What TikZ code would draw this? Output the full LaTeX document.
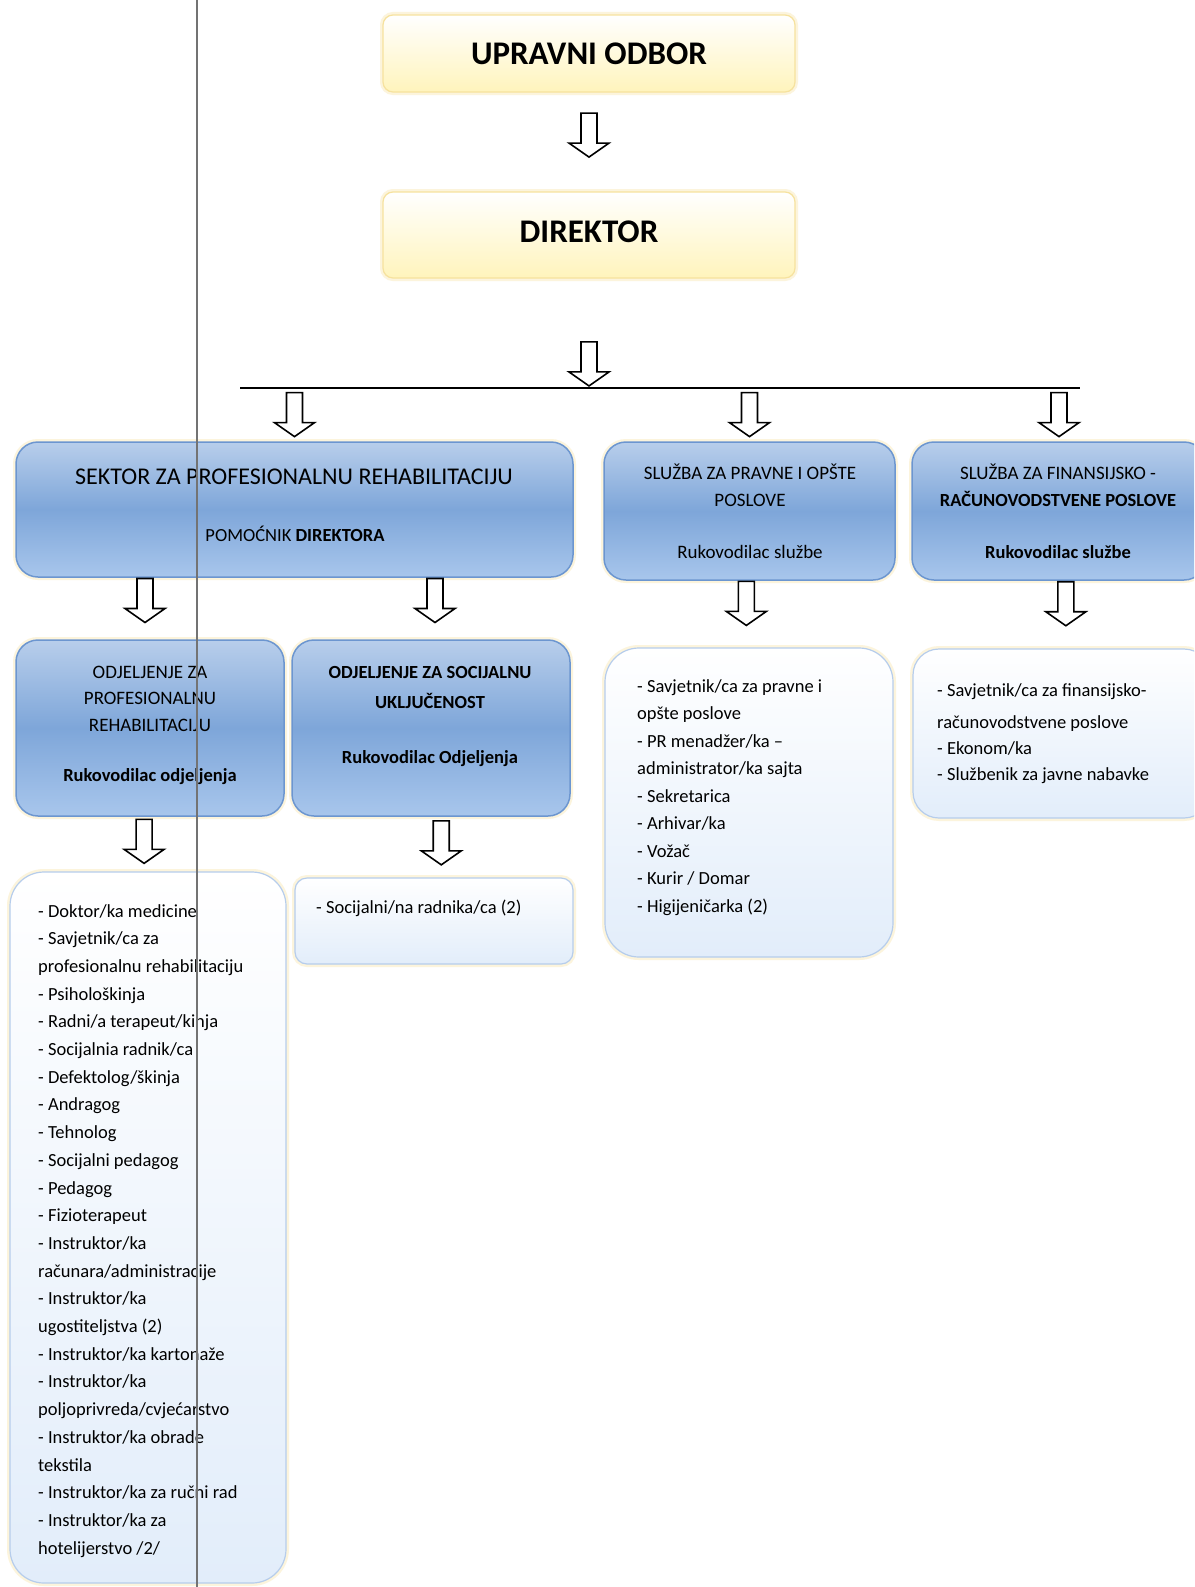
\documentclass[tikz,border=0pt]{standalone}
\usepackage{fontspec}
\setmainfont{Carlito}
\usepackage{tikz}
\usetikzlibrary{calc}

\definecolor{blueA}{RGB}{184,206,235}
\definecolor{blueB}{RGB}{126,166,217}
\definecolor{blueC}{RGB}{168,198,236}
\definecolor{blueline}{RGB}{108,150,208}
\definecolor{ylwfill}{RGB}{255,244,188}
\definecolor{ylwline}{RGB}{246,226,158}
\definecolor{listfill}{RGB}{226,237,250}
\definecolor{listline}{RGB}{182,205,236}
\definecolor{glowc}{RGB}{252,244,220}
\definecolor{scanline}{RGB}{115,115,115}

\tikzset{
  box/.style={inner sep=0pt, preaction={draw=glowc, line width=6pt}},
  yellowbox/.style={box, draw=ylwline, line width=1.2pt, rounded corners=10pt,
    top color=white, bottom color=ylwfill},
  bluebox/.style={box, draw=blueline, line width=1.5pt, rounded corners=22pt,
    top color=blueA, bottom color=blueC, middle color=blueB},
  listbox/.style={box, draw=listline, line width=1.2pt, rounded corners=34pt,
    top color=white, bottom color=listfill},
  title/.style={anchor=base, inner sep=0pt, font=\fontsize{33}{36}\selectfont\bfseries},
  lbl/.style={anchor=base, inner sep=0pt, font=\fontsize{19}{22}\selectfont},
  item/.style={anchor=base west, inner sep=0pt, font=\fontsize{18.5}{22}\selectfont},
  blockarr/.pic={
    \draw[line width=1.6pt, fill=white, line join=miter]
      (-8,-22) -- (8,-22) -- (8,8) -- (20,8) -- (0,22) -- (-20,8) -- (-8,8) -- cycle;
  }
}

\begin{document}
\begin{tikzpicture}[x=1pt, y=-1pt]
  \useasboundingbox (0,0) rectangle (1194,1587);
  \fill[white] (0,0) rectangle (1194,1587);
  \clip (0,0) rectangle (1194,1587);

  % top boxes
  \node[yellowbox, minimum width=412, minimum height=77] (upr) at (589,53.5) {};
  \node[yellowbox, minimum width=412, minimum height=86] (dir) at (589,235) {};

  % sector and services
  \node[bluebox, minimum width=557, minimum height=135] (sektor) at (294.5,509.5) {};
  \node[bluebox, minimum width=291, minimum height=138] (pravne) at (749.5,511) {};
  \node[bluebox, minimum width=294, minimum height=138] (fin) at (1059,511) {};

  % departments
  \node[bluebox, minimum width=268, minimum height=176] (odjprof) at (150,728) {};
  \node[bluebox, minimum width=278, minimum height=176] (odjsoc) at (431,728) {};

  % staff lists
  \node[listbox, minimum width=276, minimum height=711] (listprof) at (148,1227.5) {};
  \node[listbox, rounded corners=12pt, minimum width=278, minimum height=86] (listsoc) at (434,921) {};
  \node[listbox, minimum width=288, minimum height=309] (listpravne) at (749,802.5) {};
  \node[listbox, rounded corners=26pt, minimum width=297, minimum height=169] (listfin) at (1061.5,733.5) {};

  % bar
  \coordinate (barL) at (240,388);
  \coordinate (barR) at (1080,388);
  \draw[line width=1.8pt] (barL) -- (barR);

  % arrows
  \pic at ($(upr.south)!0.43!(dir.north)$) {blockarr};
  \pic at ($(dir.south)!0.78!(dir.south |- barL)$) {blockarr};
  \pic at ($(sektor.north |- barL)!0.5!(sektor.north)$) {blockarr};
  \pic at ($(pravne.north |- barL)!0.5!(pravne.north)$) {blockarr};
  \pic at ($(fin.north |- barL)!0.5!(fin.north)$) {blockarr};
  \pic at ($(odjprof.north |- sektor.south)!0.37!(odjprof.north)+(-5,0)$) {blockarr};
  \pic at ($(odjsoc.north |- sektor.south)!0.37!(odjsoc.north)+(4,0)$) {blockarr};
  \pic at ($(pravne.south)!0.34!(listpravne.north)+(-3,0)$) {blockarr};
  \pic at ($(fin.south)!0.34!(listfin.north)+(6,0)$) {blockarr};
  \pic at ($(odjprof.south)!0.45!(listprof.north)+(-5,0)$) {blockarr};
  \pic at ($(odjsoc.south)!0.43!(listsoc.north)+(9,0)$) {blockarr};

  % box texts
  \node[title] (tupr) at (589,65) {UPRAVNI ODBOR};
  \node[title] (tdir) at (589,242) {DIREKTOR};

  \node[lbl, font=\fontsize{24}{28}\selectfont] (tsek1) at (294,484) {SEKTOR ZA PROFESIONALNU REHABILITACIJU};
  \node[lbl, font=\fontsize{18.5}{22}\selectfont] (tsek2) at (295,541) {POMOĆNIK \textbf{DIREKTORA}};

  \node[lbl] (tpr1) at (750,479) {SLUŽBA ZA PRAVNE I OPŠTE};
  \node[lbl] (tpr2) at (750,506) {POSLOVE};
  \node[lbl] (tpr3) at (750,558) {Rukovodilac službe};

  \node[lbl] (tfi1) at (1058,479) {SLUŽBA ZA FINANSIJSKO -};
  \node[lbl, font=\fontsize{18.5}{22}\selectfont\bfseries] (tfi2) at (1058,506) {RAČUNOVODSTVENE POSLOVE};
  \node[lbl, font=\fontsize{18.5}{22}\selectfont\bfseries] (tfi3) at (1058,558) {Rukovodilac službe};

  \node[lbl] (top1) at (150,678) {ODJELJENJE ZA};
  \node[lbl] (top2) at (150,704) {PROFESIONALNU};
  \node[lbl] (top3) at (150,731) {REHABILITACIJU};
  \node[lbl, font=\fontsize{18.5}{22}\selectfont\bfseries] (top4) at (150,781) {Rukovodilac odjeljenja};

  \node[lbl, font=\fontsize{18.5}{22}\selectfont\bfseries] (tos1) at (430,678) {ODJELJENJE ZA SOCIJALNU};
  \node[lbl, font=\fontsize{18.5}{22}\selectfont\bfseries] (tos2) at (430,708) {UKLJUČENOST};
  \node[lbl, font=\fontsize{18.5}{22}\selectfont\bfseries] (tos3) at (430,763) {Rukovodilac Odjeljenja};

  % staff list texts
  \foreach \t [count=\i from 0] in {- Doktor/ka medicine, - Savjetnik/ca za,
      profesionalnu rehabilitaciju, - Psihološkinja, - Radni/a terapeut/kinja,
      - Socijalnia radnik/ca, - Defektolog/škinja, - Andragog, - Tehnolog,
      - Socijalni pedagog, - Pedagog, - Fizioterapeut, - Instruktor/ka,
      računara/administracije, - Instruktor/ka, ugostiteljstva (2),
      - Instruktor/ka kartonaže, - Instruktor/ka, poljoprivreda/cvjećarstvo,
      - Instruktor/ka obrade, tekstila, - Instruktor/ka za ručni rad,
      - Instruktor/ka za, hotelijerstvo /2/}
    \node[item] (lp\i) at (38,{917+27.7*\i}) {\t};

  \node[item] (ls0) at (316,913) {- Socijalni/na radnika/ca (2)};

  \foreach \t [count=\i from 0] in {- Savjetnik/ca za pravne i, opšte poslove,
      - PR menadžer/ka --, administrator/ka sajta, - Sekretarica, - Arhivar/ka,
      - Vožač, - Kurir / Domar, - Higijeničarka (2)}
    \node[item] (lr\i) at (637,{692+27.5*\i}) {\t};

  \node[item] (lf0) at (937,696) {- Savjetnik/ca za finansijsko-};
  \node[item] (lf1) at (937,728) {računovodstvene poslove};
  \node[item] (lf2) at (937,754) {- Ekonom/ka};
  \node[item] (lf3) at (937,780) {- Službenik za javne nabavke};

  % fold line of the scanned page
  \draw[scanline, line width=1.1pt] (197,0) -- (197,1587);
\end{tikzpicture}
\end{document}
